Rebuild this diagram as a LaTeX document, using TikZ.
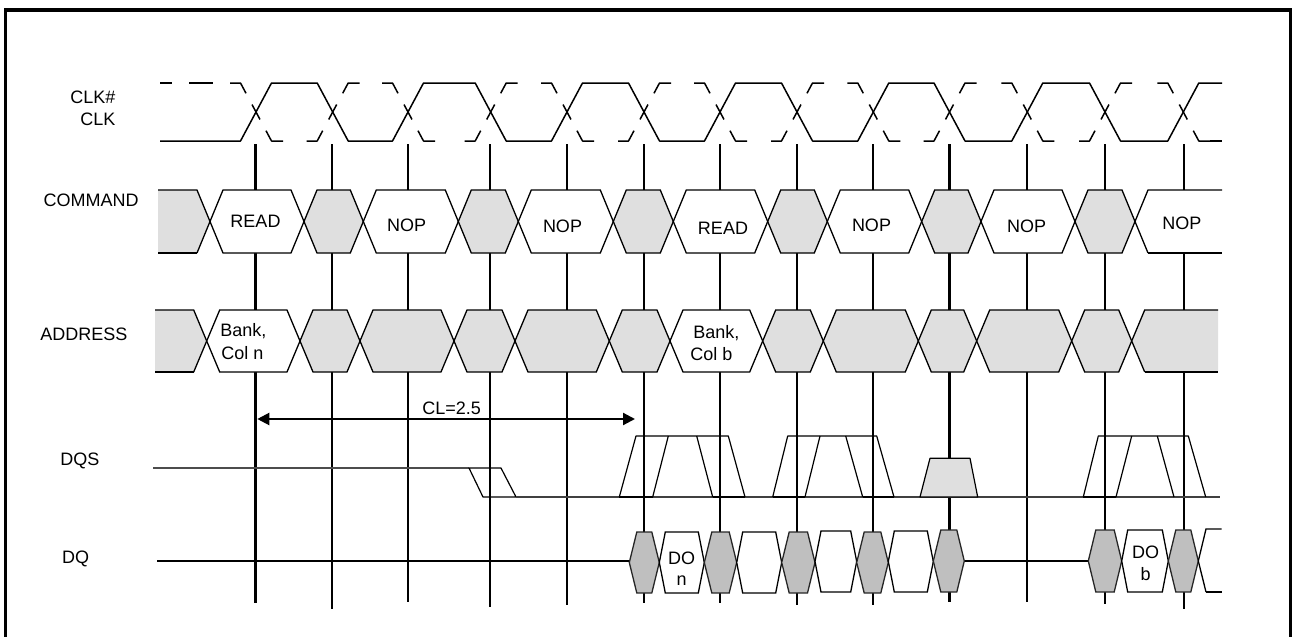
\documentclass[tikz,border=0pt]{standalone}
\usepackage{fontspec}
\setmainfont{Liberation Sans}
\usetikzlibrary{arrows.meta}
\newcommand{\tdhex}[6]{\path[#1] (#2,{(#4+#5)/2}) -- ({#2+#6},#4) -- ({#3-#6},#4) -- (#3,{(#4+#5)/2}) -- ({#3-#6},#5) -- ({#2+#6},#5) -- cycle;}
\begin{document}
\begin{tikzpicture}[x=0.5pt,y=-0.5pt,
  font=\fontsize{9}{10.8}\selectfont,
  wave/.style={line width=0.75pt, line join=round},
  clkline/.style={line width=1.1pt},
  outline/.style={line width=0.65pt, line join=miter},
  hexwhite/.style={outline, draw=black, fill=white},
  hexgray/.style={outline, draw=black, fill=gray!25},
  dqgray/.style={outline, draw=black!85, fill=gray!50},
  dqsline/.style={line width=0.6pt, line join=round},
  txt/.style={inner sep=0pt, anchor=base},
  txtw/.style={inner sep=0pt, anchor=base west},
  cltips/.style={{Triangle[length=6pt,width=6pt]}-{Triangle[length=6pt,width=6pt]}}
]
\useasboundingbox (0,0) rectangle (1292,637);
\draw[line width=1.8pt, line join=miter] (5.3,640) -- (5.3,10) -- (1290.5,10) -- (1290.5,640);

% signal names
\node[txtw] (lclkn) at (70,103.5) {CLK\#};
\node[txtw] (lclk) at (80,125) {CLK};
\node[txtw] (lcmd) at (43.3,206.7) {COMMAND};
\node[txtw] (ladr) at (40,340) {ADDRESS};
\node[txtw] (ldqs) at (60,465.5) {DQS};
\node[txtw] (ldq) at (61.7,563.3) {DQ};

% clock edge lines
\foreach \x/\e in {255.5/603,332/609,408/602,490/607,567/605,644/603,720/603,797/605,873/605,949.5/602,1027/602,1105/604,1184/609}
  \draw[clkline] (\x,144) -- (\x,\e);

% CLK (solid)
\draw[wave] (160,141)
  \foreach \c/\s in {256/1,332.7/-1,408/1,490.7/-1,567/1,644/-1,720/1,797/-1,873.3/1,949.5/-1,1027.3/1,1105/-1,1183.3/1}
  { -- ({\c-15.5},{112+29*(\s)}) -- ({\c+15.5},{112-29*(\s)}) } -- (1222,83);

% CLK# (dashed)
\draw[wave] (160,83) -- (172,83) (189,83) -- (213,83) (1210,141) -- (1222,141);
\foreach \c/\s in {256/1,332.7/-1,408/1,490.7/-1,567/1,644/-1,720/1,797/-1,873.3/1,949.5/-1,1027.3/1,1105/-1,1183.3/1}
{
  \draw[wave] ({\c-26},{112-29*(\s)}) -- ({\c-15.5},{112-29*(\s)}) -- ({\c-10},{112-29*(\s)+58*(\s)*5.5/31});
  \draw[wave] ({\c-4},{112-58*(\s)*4/31}) -- ({\c+4},{112+58*(\s)*4/31});
  \draw[wave] ({\c+10},{112+29*(\s)-58*(\s)*5.5/31}) -- ({\c+15.5},{112+29*(\s)}) -- ({\c+27},{112+29*(\s)});
}

% COMMAND
\fill[gray!25] (158,190) -- (197,190) -- (210,221.5) -- (197,253) -- (158,253) -- cycle;
\draw[outline] (158,190) -- (197,190) -- (210,221.5) -- (197,253);
\draw[line width=0.9pt] (197,253) -- (158,253);
\tdhex{hexwhite}{210}{304}{190}{253}{13}
\tdhex{hexgray}{304}{363.3}{190}{253}{13}
\tdhex{hexwhite}{363.3}{458.3}{190}{253}{13}
\tdhex{hexgray}{458.3}{518.3}{190}{253}{13}
\tdhex{hexwhite}{518.3}{613.3}{190}{253}{13}
\tdhex{hexgray}{613.3}{673.3}{190}{253}{13}
\tdhex{hexwhite}{673.3}{767.7}{190}{253}{13}
\tdhex{hexgray}{767.7}{827.3}{190}{253}{13}
\tdhex{hexwhite}{827.3}{921.7}{190}{253}{13}
\tdhex{hexgray}{921.7}{981}{190}{253}{13}
\tdhex{hexwhite}{981}{1075}{190}{253}{13}
\tdhex{hexgray}{1075}{1135}{190}{253}{13}
\fill[white] (1135,221.5) -- (1148,190) -- (1222,190) -- (1222,253) -- (1148,253) -- cycle;
\draw[outline] (1222,190) -- (1148,190) -- (1135,221.5) -- (1148,253);
\draw[line width=0.9pt] (1148,253) -- (1222,253);

\node[txt] (c1) at (255.5,227.3) {READ};
\node[txt] (c2) at (406.7,231.7) {NOP};
\node[txt] (c3) at (562.5,232.3) {NOP};
\node[txt] (c4) at (723,234) {READ};
\node[txt] (c5) at (871.5,231) {NOP};
\node[txt] (c6) at (1026.5,232) {NOP};
\node[txt] (c7) at (1181.8,229.3) {NOP};

% ADDRESS
\fill[gray!25] (155,310) -- (193.7,310) -- (206.7,341) -- (193.7,372) -- (155,372) -- cycle;
\draw[outline] (155,310) -- (193.7,310) -- (206.7,341) -- (193.7,372);
\draw[line width=0.9pt] (193.7,372) -- (155,372);
\tdhex{hexwhite}{206.7}{300}{310}{372}{13}
\tdhex{hexgray}{300}{360}{310}{372}{13}
\tdhex{hexgray}{360}{454}{310}{372}{13}
\tdhex{hexgray}{454}{515}{310}{372}{13}
\tdhex{hexgray}{515}{609.3}{310}{372}{13}
\tdhex{hexgray}{609.3}{670}{310}{372}{13}
\tdhex{hexwhite}{670}{762.7}{310}{372}{13}
\tdhex{hexgray}{762.7}{823.3}{310}{372}{13}
\tdhex{hexgray}{823.3}{918.3}{310}{372}{13}
\tdhex{hexgray}{918.3}{976.7}{310}{372}{13}
\tdhex{hexgray}{976.7}{1071.7}{310}{372}{13}
\tdhex{hexgray}{1071.7}{1131.7}{310}{372}{13}
\fill[gray!25] (1131.7,341) -- (1144.7,310) -- (1218,310) -- (1218,372) -- (1144.7,372) -- cycle;
\draw[outline] (1218,310) -- (1144.7,310) -- (1131.7,341) -- (1144.7,372);
\draw[line width=0.9pt] (1144.7,372) -- (1218,372);

\node[txtw] (a1) at (220,336.7) {Bank,};
\node[txtw] (a2) at (221,359.3) {Col n};
\node[txtw] (a3) at (693,338.3) {Bank,};
\node[txtw] (a4) at (690,360) {Col b};

% CL arrow
\draw[clkline, cltips] (257.3,419) -- (635,419);
\node[txt] (cl) at (451.7,414) {CL=2.5};

% DQS
\draw[dqsline, black!70] (153,468) -- (469,468);
\draw[dqsline] (469,468) -- (501,468) -- (516,497) -- (483,497) -- cycle;
\draw[dqsline, black!75] (516,497) -- (1220,497);
\draw[line width=0.9pt] (619.3,497) -- (652.7,497) (712.7,497) -- (745,497)
  (772.7,497) -- (805,497) (862.7,497) -- (894,497) (1083.3,497) -- (1116,497);
% pulse 1
\draw[dqsline] (619.3,497) -- (636,436) -- (728.3,436) -- (745,497);
\draw[dqsline] (652.7,497) -- (668.3,436) (696.7,436) -- (712.7,497);
% pulse 2
\draw[dqsline] (772.7,497) -- (787.7,436) -- (876.7,436) -- (894,497);
\draw[dqsline] (805,497) -- (820,436) (845.7,436) -- (862.7,497);
% gray pulse
\draw[dqsline, fill=gray!25] (920,497) -- (930,458.3) -- (970,458.3) -- (977.7,497) -- cycle;
% pulse 3
\draw[dqsline] (1083.3,497) -- (1098.3,436) -- (1188.3,436) -- (1205.7,497);
\draw[dqsline] (1116,497) -- (1131.7,436) (1157.3,436) -- (1174,497);

% DQ
\draw[clkline] (157,561) -- (629.3,561);
\draw[clkline] (964.3,561) -- (1088.3,561);
\tdhex{dqgray}{629.3}{659.3}{532}{593}{7.5}
\tdhex{hexwhite}{659.3}{704.3}{532}{593}{6}
\tdhex{dqgray}{704.3}{736.7}{532}{593}{7.5}
\tdhex{hexwhite}{736.7}{781.7}{532}{593}{6}
\tdhex{dqgray}{781.7}{815}{532}{593}{7.5}
\tdhex{hexwhite}{815}{856.7}{531}{592}{6}
\tdhex{dqgray}{856.7}{888.3}{532}{593}{7.5}
\tdhex{hexwhite}{888.3}{933.3}{531}{592}{6}
\tdhex{dqgray}{933.3}{964.3}{530}{592}{7.5}
\tdhex{dqgray}{1088.3}{1121.7}{530}{592}{7.5}
\tdhex{hexwhite}{1121.7}{1168.3}{530}{592}{6}
\tdhex{dqgray}{1168.3}{1198.3}{530}{592}{7.5}
\draw[outline] (1221.7,529) -- (1206,529) -- (1198.3,561) -- (1206,592);
\draw[line width=0.9pt] (1206,592) -- (1221.7,592);

\node[txt] (d1) at (681.7,564) {DO};
\node[txt] (d2) at (681.7,585) {n};
\node[txt] (d3) at (1145.7,558.3) {DO};
\node[txt] (d4) at (1145.7,580) {b};
\end{tikzpicture}
\end{document}
